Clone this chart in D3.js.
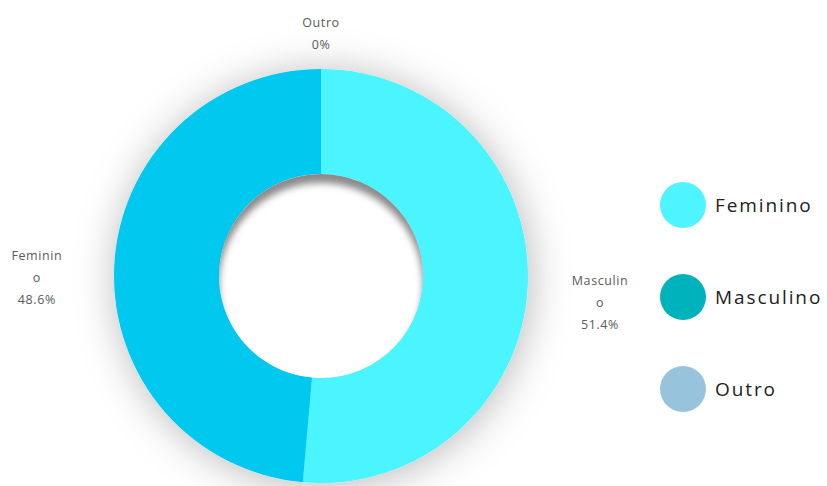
<!DOCTYPE html>
<html>
<head>
<meta charset="utf-8">
<script src="https://cdn.jsdelivr.net/npm/d3@7"></script>
<style>
  body { margin: 0; background: #fff; }
  svg { display: block; }
</style>
</head>
<body>
<div id="chart"><svg></svg></div>
<script>
// data
var categories = ["Masculino", "Feminino", "Outro"];
var values = [51.4, 48.6, 0];
var sliceLabelLines = [["Masculin", "o"], ["Feminin", "o"], ["Outro"]];
var legendNames = ["Feminino", "Masculino", "Outro"];
var legendColors = ["#4ef4ff", "#00b2bc", "#98c3dc"];
var sliceColors = ["#4cf5ff", "#06c8ef", "#98c3dc"];

var width = 827, height = 486;
var cx = 321, cy = 276;
var outerR = 207, innerR = 102;

var svg = d3.select("#chart svg").attr("width", width).attr("height", height);
var defs = svg.append("defs");

// soft grey glow around the ring
var glow = defs.append("filter").attr("id", "glow")
    .attr("x", "-40%").attr("y", "-40%").attr("width", "180%").attr("height", "180%");
glow.append("feDropShadow")
    .attr("dx", 2).attr("dy", 3)
    .attr("stdDeviation", 20)
    .attr("flood-color", "#000")
    .attr("flood-opacity", 0.28);

var blur = defs.append("filter").attr("id", "holeBlur")
    .attr("x", "-20%").attr("y", "-20%").attr("width", "140%").attr("height", "140%");
blur.append("feGaussianBlur").attr("stdDeviation", 3.5);

defs.append("clipPath").attr("id", "holeClip")
    .append("circle").attr("r", innerR);

var pie = d3.pie().sort(null).value(function(d) { return d; });
var arcs = pie(values);
var arc = d3.arc().innerRadius(innerR).outerRadius(outerR);

var g = svg.append("g").attr("transform", "translate(" + cx + "," + cy + ")");

g.append("g")
    .attr("filter", "url(#glow)")
    .selectAll("path")
    .data(arcs)
    .enter().append("path")
    .attr("d", arc)
    .attr("fill", function(d, i) { return sliceColors[i]; });

// inset shadow in the hole
var hole = g.append("g").attr("clip-path", "url(#holeClip)");
hole.append("circle").attr("r", innerR).attr("fill", "#fff");
hole.append("circle")
    .attr("cy", 9)
    .attr("r", innerR + 14)
    .attr("fill", "none")
    .attr("stroke", "#8a8a8a")
    .attr("stroke-width", 28)
    .attr("filter", "url(#holeBlur)");

// slice labels, placed just outside the ring
var lineH = 22;
var labelPad = [44, 52, 16];
arcs.forEach(function(d, i) {
    var a = (d.startAngle + d.endAngle) / 2;
    var lines = sliceLabelLines[i].concat([d.data + "%"]);
    var r = outerR + labelPad[i];
    var x = Math.sin(a) * r;
    var y = -Math.cos(a) * r;
    var t = g.append("text")
        .attr("text-anchor", "middle")
        .attr("font-family", "'Open Sans', sans-serif")
        .attr("font-size", 12.5)
        .attr("letter-spacing", 0.6)
        .attr("fill", "#5a5a5a");
    t.selectAll("tspan")
        .data(lines)
        .enter().append("tspan")
        .attr("x", 0)
        .attr("dy", function(s, j) { return j === 0 ? 0 : lineH; })
        .text(function(s) { return s; });
    var bb = t.node().getBBox();
    var blockH = (lines.length - 1) * lineH;
    var ox = x + Math.sin(a) * bb.width / 2;
    var yc = y - Math.cos(a) * bb.height / 2 + 15 * Math.abs(Math.sin(a));
    var oy = yc - blockH / 2 + 4;
    t.attr("transform", "translate(" + ox + "," + oy + ")");
});

// legend
var legend = svg.append("g").attr("transform", "translate(683,205)");
var item = legend.selectAll("g")
    .data(legendNames)
    .enter().append("g")
    .attr("transform", function(d, i) { return "translate(0," + i * 92 + ")"; });
item.append("circle")
    .attr("r", 23)
    .attr("fill", function(d, i) { return legendColors[i]; });
item.append("text")
    .attr("x", 32)
    .attr("dy", "0.35em")
    .attr("font-family", "'Open Sans', sans-serif")
    .attr("font-size", 19)
    .attr("letter-spacing", 1.9)
    .attr("fill", "#222")
    .text(function(d) { return d; });
</script>
</body>
</html>
